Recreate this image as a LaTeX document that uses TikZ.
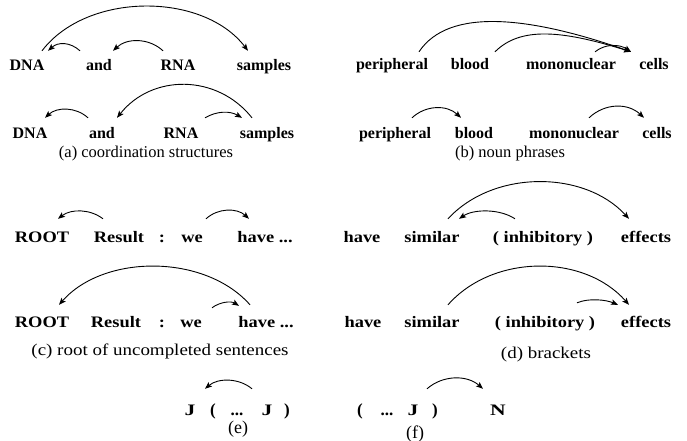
\documentclass[tikz,border=0pt]{standalone}
\usepackage{fontspec}
\setmainfont{Liberation Serif}
\newfontfamily\wideserif[FakeStretch=1.15]{Liberation Serif}
\newfontfamily\widerserif[FakeStretch=1.35]{Liberation Serif}
\usetikzlibrary{arrows.meta}
\tikzset{
  wd/.style={anchor=base, inner sep=0pt, text height=#1, font=\bfseries\fontsize{16}{19}\selectfont},
  wdw/.style={anchor=base, inner sep=0pt, text height=#1, font=\wideserif\bfseries\fontsize{16}{19}\selectfont},
  wde/.style={anchor=base, inner sep=0pt, text height=#1, font=\bfseries\fontsize{17}{20}\selectfont},
  wdj/.style={anchor=base, inner sep=0pt, text height=#1, font=\widerserif\bfseries\fontsize{16}{19}\selectfont},
  captxt/.style={anchor=base, inner sep=0pt, font=\fontsize{16.5}{19}\selectfont},
  captxtw/.style={anchor=base, inner sep=0pt, font=\wideserif\fontsize{16.5}{19}\selectfont},
  captxte/.style={anchor=base, inner sep=0pt, font=\fontsize{18}{21}\selectfont},
  arc/.style={line width=0.9pt, -{Stealth[length=7pt,width=5.5pt,inset=1.5pt]}},
}
\begin{document}
\begin{tikzpicture}[x=1pt,y=-1pt]
\useasboundingbox (0,0) rectangle (687,441);
% ---------- (a) row 1
\node[wd=20pt] (a1) at (27,71) {DNA};
\node[wd=20pt] (a2) at (99,71) {and};
\node[wd=20pt] (a3) at (178,71) {RNA};
\node[wd=20pt] (a4) at (264,71) {samples};
\draw[arc] ([xshift=15pt]a1.north) .. controls +(45,-59) and +(-45,-59) .. ([xshift=-16pt]a4.north);
\draw[arc] ([xshift=-19pt]a2.north) .. controls +(-10,-9) and +(10,-9) .. ([xshift=21pt]a1.north);
\draw[arc] ([xshift=-15pt]a3.north) .. controls +(-14,-13) and +(14,-13) .. ([xshift=14pt]a2.north);
% ---------- (a) row 2
\node[wd=21pt] (b1) at (30,139) {DNA};
\node[wd=21pt] (b2) at (102,139) {and};
\node[wd=21pt] (b3) at (181,139) {RNA};
\node[wd=21pt] (b4) at (267,139) {samples};
\draw[arc] ([xshift=-14pt]b2.north) .. controls +(-12,-11) and +(12,-11) .. ([xshift=15pt]b1.north);
\draw[arc] ([xshift=-15pt]b4.north) .. controls +(-35,-44) and +(35,-44) .. ([xshift=15pt]b2.north);
\draw[arc] ([xshift=24pt]b3.north) .. controls +(12,-7) and +(-12,-7) .. ([xshift=-25pt]b4.north);
\node[captxt] (capa) at (146,157) {(a) coordination structures};
% ---------- (b) row 1
\node[wd=18pt] (c1) at (392,70) {peripheral};
\node[wd=18pt] (c2) at (470,70) {blood};
\node[wd=18pt] (c3) at (571,70) {mononuclear};
\node[wd=18pt] (c4) at (654,70) {cells};
\draw[arc] ([xshift=27pt]c1.north) .. controls +(30,-45) and +(-100,-35) .. ([xshift=-23pt]c4.north);
\draw[arc] ([xshift=25pt]c2.north) .. controls +(25,-25) and +(-70,-22) .. ([xshift=-23pt]c4.north);
\draw[arc] ([xshift=24pt]c3.north) .. controls +(10,-8) and +(-12,-8) .. ([xshift=-23pt]c4.north);
% ---------- (b) row 2
\node[wd=20pt] (d1) at (395,138) {peripheral};
\node[wd=20pt] (d2) at (474,138) {blood};
\node[wd=20pt] (d3) at (574,138) {mononuclear};
\node[wd=20pt] (d4) at (657,138) {cells};
\draw[arc] ([xshift=17pt]d1.north) .. controls +(14,-13) and +(-14,-13) .. ([xshift=-13pt]d2.north);
\draw[arc] ([xshift=15pt]d3.north) .. controls +(16,-15) and +(-16,-15) .. ([xshift=-13pt]d4.north);
\node[captxt] (capb) at (510,157) {(b) noun phrases};
% ---------- (c) row 1
\node[wdw=23pt] (e1) at (42,242) {ROOT};
\node[wdw=23pt] (e2) at (119,242) {Result};
\node[wdw=23pt] (e3) at (162,242) {:};
\node[wdw=23pt] (e4) at (192,242) {we};
\node[wdw=23pt] (e5) at (265,242) {have ...};
\draw[arc] ([xshift=-16pt]e2.north) .. controls +(-13,-10) and +(13,-10) .. ([xshift=16pt]e1.north);
\draw[arc] ([xshift=14pt]e4.north) .. controls +(12,-11) and +(-12,-11) .. ([xshift=-16pt]e5.north);
% ---------- (c) row 2
\node[wdw=22pt] (f1) at (42,327) {ROOT};
\node[wdw=22pt] (f2) at (116,327) {Result};
\node[wdw=22pt] (f3) at (162,327) {:};
\node[wdw=22pt] (f4) at (191,327) {we};
\node[wdw=22pt] (f5) at (266,327) {have ...};
\draw[arc] ([xshift=-16pt]f5.north) .. controls +(-45,-51) and +(45,-51) .. ([xshift=17pt]f1.north);
\draw[arc] ([xshift=21pt,yshift=-3pt]f4.north) .. controls +(8,-6) and +(-8,-5) .. ([xshift=-27pt,yshift=-1pt]f5.north);
\node[captxtw] (capc) at (160,355) {(c) root of uncompleted sentences};
% ---------- (d) row 1
\node[wdw=23pt] (g1) at (362,242) {have};
\node[wdw=23pt] (g2) at (432,242) {similar};
\node[wdw=23pt] (g3) at (543,242) {( inhibitory )};
\node[wdw=23pt] (g4) at (646,242) {effects};
\draw[arc] ([xshift=16pt]g2.north) .. controls +(45,-49) and +(-45,-49) .. ([xshift=-17pt]g4.north);
\draw[arc] ([xshift=-28pt]g3.north) .. controls +(-15,-10) and +(15,-10) .. ([xshift=27pt]g2.north);
% ---------- (d) row 2
\node[wdw=22pt] (h1) at (363,327) {have};
\node[wdw=22pt] (h2) at (432,327) {similar};
\node[wdw=22pt] (h3) at (545,327) {( inhibitory )};
\node[wdw=22pt] (h4) at (646,327) {effects};
\draw[arc] ([xshift=16pt]h2.north) .. controls +(45,-51) and +(-45,-51) .. ([xshift=-17pt]h4.north);
\draw[arc] ([xshift=32pt,yshift=2pt]h3.north) .. controls +(12,-5) and +(-12,-5) .. ([xshift=-28pt]h4.north);
\node[captxtw] (capd) at (546,358) {(d) brackets};
% ---------- (e)
\node[wdj=26pt] (i1) at (190,415) {J};
\node[wde=26pt] (i2) at (213,415) {(};
\node[wde=26pt] (i3) at (237,415) {...};
\node[wdj=26pt] (i4) at (267,415) {J};
\node[wde=26pt] (i5) at (287,415) {)};
\draw[arc] ([xshift=-15pt]i4.north) .. controls +(-13,-11) and +(13,-11) .. ([xshift=15pt]i1.north);
\node[captxte] (cape) at (238,433) {(e)};
% ---------- (f)
\node[wde=26pt] (j1) at (360,415) {(};
\node[wde=26pt] (j2) at (387,415) {...};
\node[wdj=26pt] (j3) at (413,415) {J};
\node[wde=26pt] (j4) at (435,415) {)};
\node[wdj=26pt] (j5) at (498,415) {N};
\draw[arc] ([xshift=14pt]j3.north) .. controls +(16,-14) and +(-16,-14) .. ([xshift=-15pt]j5.north);
\node[captxte] (capf) at (415,438) {(f)};
\end{tikzpicture}
\end{document}
